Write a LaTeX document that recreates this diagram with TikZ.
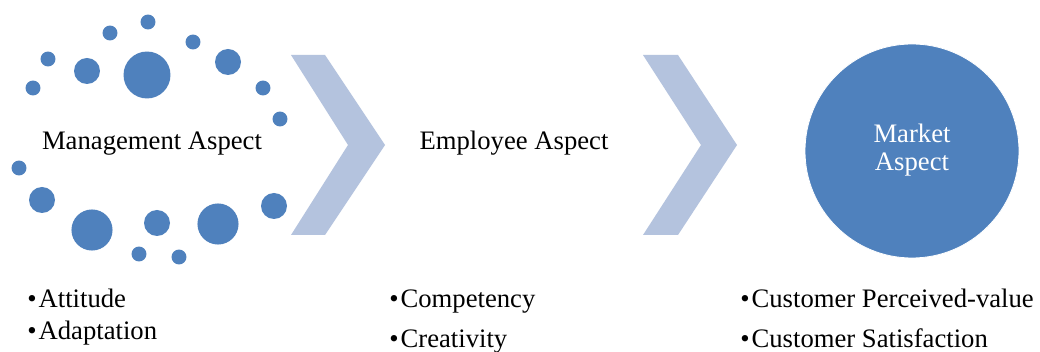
\documentclass[tikz,border=0pt]{standalone}
\usepackage{fontspec}
\setmainfont{Liberation Serif}
\definecolor{dotblue}{HTML}{4F81BD}
\definecolor{chevblue}{HTML}{B4C3DE}
\newcommand{\bul}{\textbullet\kern1.5pt}
\begin{document}
\begin{tikzpicture}[x=0.75pt,y=-0.75pt,
  txt/.style={font=\fontsize{20pt}{24pt}\selectfont, inner sep=0pt, text=black},
  chev/.style={fill=chevblue, draw=none},
  dot/.style={fill=dotblue}]
\useasboundingbox (0,0) rectangle (1040,352);
\fill[white] (0,0) rectangle (1040,352);
% ring of dots
\fill[dot] (148,22) circle[radius=5.6pt];
\fill[dot] (110,33) circle[radius=5.6pt];
\fill[dot] (193,42) circle[radius=5.6pt];
\fill[dot] (48,59) circle[radius=5.6pt];
\fill[dot] (87,71) circle[radius=9.75pt];
\fill[dot] (147,75) circle[radius=17.6pt];
\fill[dot] (228,62) circle[radius=9.75pt];
\fill[dot] (33,88) circle[radius=5.6pt];
\fill[dot] (263,88) circle[radius=5.6pt];
\fill[dot] (280,119) circle[radius=5.6pt];
\fill[dot] (19,168) circle[radius=5.6pt];
\fill[dot] (42,200) circle[radius=9.75pt];
\fill[dot] (92,230) circle[radius=15.4pt];
\fill[dot] (157,223) circle[radius=9.75pt];
\fill[dot] (218,224) circle[radius=15.4pt];
\fill[dot] (274,206) circle[radius=9.75pt];
\fill[dot] (139,254) circle[radius=5.6pt];
\fill[dot] (179,257) circle[radius=5.6pt];
% chevrons
\fill[chev] (291,55) -- (325,55) -- (385,145) -- (325,235) -- (291,235) -- (348,145) -- cycle;
\fill[chev] (643,55) -- (678,55) -- (737,145) -- (678,235) -- (643,235) -- (701,145) -- cycle;
% market circle
\node[circle, fill=dotblue, draw=white, line width=0.6pt, minimum size=160.5pt, inner sep=0pt] (market) at (912,151) {};
% headings
\node[txt, anchor=base] (mgmt) at (152,150) {Management Aspect};
\node[txt, anchor=base] (empl) at (514,150) {Employee Aspect};
\node[txt, anchor=base, text=white] (mkt1) at (912,143) {Market};
\node[txt, anchor=base, text=white] (mkt2) at (912,171) {Aspect};
% bullets
\node[txt, anchor=base west] (b1) at (27,308) {\bul Attitude};
\node[txt, anchor=base west] (b2) at (27,340) {\bul Adaptation};
\node[txt, anchor=base west] (b3) at (389,308) {\bul Competency};
\node[txt, anchor=base west] (b4) at (389,348) {\bul Creativity};
\node[txt, anchor=base west] (b5) at (740,308) {\bul Customer Perceived-value};
\node[txt, anchor=base west] (b6) at (740,348) {\bul Customer Satisfaction};
\end{tikzpicture}
\end{document}
